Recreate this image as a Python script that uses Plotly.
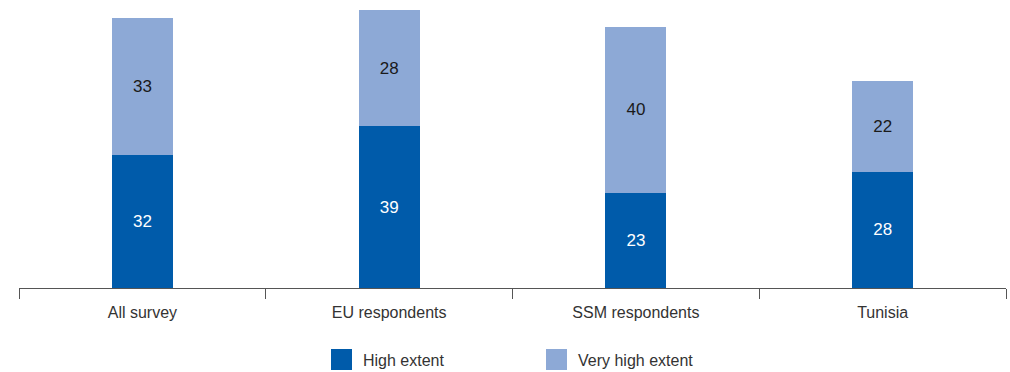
import plotly.graph_objects as go

# Survey groups and shares (%) answering "to a high / very high extent"
categories = ["All survey", "EU respondents", "SSM respondents", "Tunisia"]
high_extent = [32, 39, 23, 28]
very_high_extent = [33, 28, 40, 22]
series_names = ["High extent", "Very high extent"]

DARK_BLUE = "#005BAA"
LIGHT_BLUE = "#8DA9D6"
TEXT = "#333333"
FONT = "Liberation Sans, Arial, sans-serif"

W, H = 1010, 372
M_L, M_R, M_T, M_B = 19, 4, 0, 84

fig = go.Figure()
fig.add_trace(go.Bar(
    x=categories, y=high_extent, name=series_names[0],
    marker=dict(color=DARK_BLUE, line=dict(width=0)),
    text=high_extent, textposition="inside", insidetextanchor="middle",
    textfont=dict(color="white", size=17, family=FONT),
    hoverinfo="skip",
))
fig.add_trace(go.Bar(
    x=categories, y=very_high_extent, name=series_names[1],
    marker=dict(color=LIGHT_BLUE, line=dict(width=0)),
    text=very_high_extent, textposition="inside", insidetextanchor="middle",
    textfont=dict(color="#1a1a1a", size=17, family=FONT),
    hoverinfo="skip",
))

# Legend drawn as large square swatches with text beside them
plot_w = W - M_L - M_R
plot_h = H - M_T - M_B


def px_x(x):
    return (x - M_L) / plot_w


def px_y(y):
    return (H - M_B - y) / plot_h


shapes = []
annotations = []
legend_items = [(series_names[0], DARK_BLUE, 331), (series_names[1], LIGHT_BLUE, 546)]
for name, color, left in legend_items:
    shapes.append(dict(
        type="rect", xref="paper", yref="paper",
        x0=px_x(left), x1=px_x(left + 21), y0=px_y(370), y1=px_y(349),
        fillcolor=color, line=dict(width=0),
    ))
    annotations.append(dict(
        text=name, xref="paper", yref="paper",
        x=px_x(left + 30), y=px_y(360), xanchor="left", yanchor="middle",
        showarrow=False, font=dict(size=16, color=TEXT, family=FONT),
    ))

fig.update_layout(
    width=W, height=H,
    margin=dict(l=M_L, r=M_R, t=M_T, b=M_B),
    barmode="stack", bargap=0.7525,
    plot_bgcolor="white", paper_bgcolor="white",
    showlegend=False,
    font=dict(family=FONT, color=TEXT, size=16),
    shapes=shapes, annotations=annotations,
    uniformtext=dict(mode=False),
)
fig.update_xaxes(
    type="category", tickson="boundaries", ticks="outside", ticklen=10,
    tickcolor="#555555", tickwidth=1, ticklabelstandoff=10,
    showline=True, linecolor="#555555", linewidth=1,
    showgrid=False, tickfont=dict(size=16, color=TEXT, family=FONT),
    fixedrange=True,
)
fig.update_yaxes(
    range=[0, 69.4], visible=False, showgrid=False, zeroline=False,
    fixedrange=True,
)

fig.write_html("out.html", config={"displayModeBar": False})
